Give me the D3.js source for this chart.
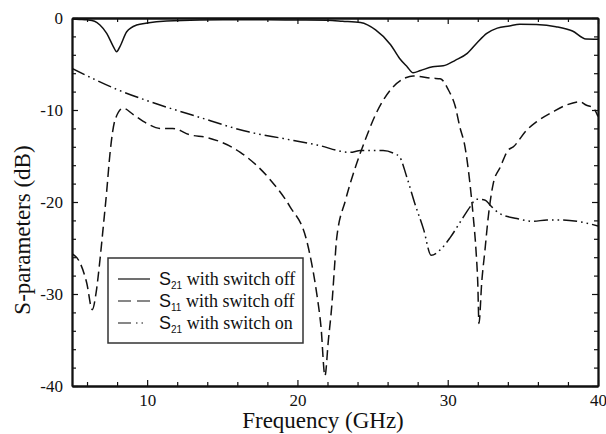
<!DOCTYPE html>
<html>
<head>
<meta charset="utf-8">
<script src="https://cdn.jsdelivr.net/npm/d3@7"></script>
<style>
  html, body { margin: 0; padding: 0; background: #fff; }
  svg { display: block; }
</style>
</head>
<body>
<svg id="chart" width="606" height="434"></svg>
<script>
// ---- data ----
const freqS21Off = [5, 5.5, 6, 6.5, 6.86, 7.31, 7.75, 7.97, 8.19, 8.64, 9.3, 10, 11.3, 13.5, 16, 18, 20, 22, 23, 24.2, 25.2, 26.2, 26.8, 27.3, 27.7, 28.2, 29.0, 29.7, 30.5, 31.3, 32, 32.6, 33.3, 34.1, 34.8, 35.9, 37.2, 38.3, 39.2, 40];
const s21Off = [-0.1, -0.15, -0.2, -0.35, -0.76, -1.67, -3.1, -3.66, -3.1, -1.49, -0.76, -0.55, -0.33, -0.22, -0.2, -0.2, -0.22, -0.25, -0.35, -0.5, -1.3, -2.9, -4.4, -5.3, -5.95, -5.7, -5.3, -5.2, -4.6, -3.84, -2.6, -1.67, -1.1, -0.87, -0.69, -0.72, -0.94, -1.41, -2.28, -2.3];

const freqS11Off = [5, 5.53, 5.98, 6.35, 6.6, 6.86, 7.08, 7.3, 7.53, 7.86, 8.4, 9.08, 9.97, 10.85, 11.7, 12.85, 14, 16.2, 18.2, 19.5, 20.6, 20.95, 21.28, 21.57, 21.83, 22.06, 22.28, 22.5, 22.6, 23.2, 23.8, 24.5, 25.2, 26.2, 27.2, 27.7, 29.0, 29.5, 30.04, 30.5, 30.8, 31.15, 31.48, 31.7, 31.88, 32, 32.08, 32.26, 32.48, 32.7, 33.03, 33.5, 34.03, 34.36, 35.25, 35.9, 37, 37.9, 38.8, 39.2, 39.7, 40];
const s11Off = [-25.6, -26.6, -28.8, -31.7, -29.9, -26.3, -22.7, -19, -14.7, -11.1, -9.8, -10.5, -11.45, -12, -12, -12.7, -13, -14.6, -17.6, -20.5, -24.1, -26.7, -29.9, -33.6, -38.9, -35, -31.4, -26.3, -24.1, -19.8, -16.5, -13.3, -10.5, -7.8, -6.5, -6.3, -6.55, -6.6, -7.8, -9.6, -11.8, -14, -18, -21.6, -25.2, -28.8, -33.2, -28.8, -25.2, -21.6, -18, -16.2, -14.35, -14, -12.2, -11.3, -10.2, -9.46, -9.1, -9.46, -9.8, -10.7];

const freqS21On = [5, 7.97, 10.2, 13.3, 16.8, 19.06, 21.3, 23.5, 24.2, 25.7, 26.4, 26.8, 27.27, 27.8, 28.4, 28.9, 29.5, 30.15, 30.9, 31.5, 31.9, 32.5, 32.8, 33.4, 34.6, 35.7, 36.6, 37.5, 38.6, 40];
const s21On = [-5.47, -7.75, -9.1, -10.7, -12.4, -13.1, -13.8, -14.6, -14.4, -14.4, -14.7, -15.1, -17.25, -20.1, -23, -25.8, -25.2, -23.9, -22, -20.5, -19.7, -19.8, -20.3, -21.2, -21.8, -22.1, -21.95, -21.95, -22.1, -22.6];

const xMajorTicks = [10, 20, 30, 40];
const yMajorTicks = [0, -10, -20, -30, -40];
const seriesNames = ["with switch off", "with switch off", "with switch on"];
const seriesSubs = ["21", "11", "21"];

// ---- layout ----
const svg = d3.select("#chart");
const L = 72, R = 598, T = 18, B = 386;
const x = d3.scaleLinear().domain([5, 40]).range([L, R]);
const y = d3.scaleLinear().domain([-40, 0]).range([B, T]);

const serif = "Liberation Serif";
const sans = "Liberation Sans";

const line = d3.line().x(d => x(d[0])).y(d => y(d[1])).curve(d3.curveMonotoneX);
const zip = (a, b) => a.map((v, i) => [v, b[i]]);

svg.append("clipPath").attr("id", "clip")
  .append("rect").attr("x", L).attr("y", T - 1).attr("width", R - L).attr("height", B - T + 2);

const dashes = [null, "10,5", "14,4,1.6,4,1.6,4"];
const data = [zip(freqS21Off, s21Off), zip(freqS11Off, s11Off), zip(freqS21On, s21On)];

const g = svg.append("g").attr("clip-path", "url(#clip)");
data.forEach((d, i) => {
  g.append("path").datum(d)
    .attr("d", line)
    .attr("fill", "none")
    .attr("stroke", "#111")
    .attr("stroke-width", 1.5)
    .attr("stroke-dasharray", dashes[i]);
});

// ---- axes (ticks inward on all sides) ----
const xMinor = d3.range(6, 40, 2).filter(v => v % 10 !== 0);
const yMinor = d3.range(-38, 0, 2).filter(v => v % 10 !== 0);

const axB = d3.axisBottom(x).tickValues(xMajorTicks).tickSizeInner(-6).tickSizeOuter(0).tickPadding(8).tickFormat(d3.format("d"));
const axBm = d3.axisBottom(x).tickValues(xMinor).tickSizeInner(-4).tickSizeOuter(0).tickFormat("");
const axT = d3.axisTop(x).tickValues(xMajorTicks).tickSizeInner(-6).tickSizeOuter(0).tickFormat("");
const axTm = d3.axisTop(x).tickValues(xMinor).tickSizeInner(-4).tickSizeOuter(0).tickFormat("");
const axL = d3.axisLeft(y).tickValues(yMajorTicks).tickSizeInner(-6).tickSizeOuter(0).tickPadding(9).tickFormat(d => d === 0 ? "0" : "-" + Math.abs(d));
const axLm = d3.axisLeft(y).tickValues(yMinor).tickSizeInner(-4).tickSizeOuter(0).tickFormat("");
const axR = d3.axisRight(y).tickValues(yMajorTicks).tickSizeInner(-6).tickSizeOuter(0).tickFormat("");
const axRm = d3.axisRight(y).tickValues(yMinor).tickSizeInner(-4).tickSizeOuter(0).tickFormat("");

function styleAxis(sel) {
  sel.attr("font-family", serif).attr("font-size", 17);
  sel.selectAll("path.domain").attr("stroke", "#111").attr("stroke-width", 1.8);
  sel.selectAll(".tick line").attr("stroke", "#111").attr("stroke-width", 1.2);
  sel.selectAll(".tick text").attr("font-family", serif).attr("font-size", 17).attr("fill", "#111");
}
svg.append("g").attr("transform", `translate(0,${B})`).call(axB).call(styleAxis);
svg.append("g").attr("transform", `translate(0,${B})`).call(axBm).call(styleAxis);
svg.append("g").attr("transform", `translate(0,${T})`).call(axT).call(styleAxis);
svg.append("g").attr("transform", `translate(0,${T})`).call(axTm).call(styleAxis);
svg.append("g").attr("transform", `translate(${L},0)`).call(axL).call(styleAxis);
svg.append("g").attr("transform", `translate(${L},0)`).call(axLm).call(styleAxis);
svg.append("g").attr("transform", `translate(${R},0)`).call(axR).call(styleAxis);
svg.append("g").attr("transform", `translate(${R},0)`).call(axRm).call(styleAxis);

// ---- axis titles ----
svg.append("text").attr("x", 323).attr("y", 428)
  .attr("text-anchor", "middle").attr("font-family", serif).attr("font-size", 23).attr("fill", "#111")
  .text("Frequency (GHz)");
svg.append("text").attr("transform", "translate(30,230) rotate(-90)")
  .attr("text-anchor", "middle").attr("font-family", serif).attr("font-size", 23).attr("fill", "#111")
  .text("S-parameters (dB)");

// ---- legend ----
const lg = svg.append("g");
lg.append("rect").attr("x", 108).attr("y", 258).attr("width", 195).attr("height", 85)
  .attr("fill", "#fff").attr("stroke", "#333").attr("stroke-width", 1.5);
const rowY = [279, 301, 323];
seriesNames.forEach((name, i) => {
  const yy = rowY[i];
  lg.append("line").attr("x1", 118).attr("x2", 150).attr("y1", yy).attr("y2", yy)
    .attr("stroke", "#111").attr("stroke-width", 1.2)
    .attr("stroke-dasharray", i === 0 ? null : (i === 1 ? "13,6" : "13,5,1.5,4,1.5,10"));
  const t = lg.append("text").attr("x", 159).attr("y", yy + 6).attr("fill", "#111");
  t.append("tspan").attr("font-family", sans).attr("font-size", 18).text("S");
  t.append("tspan").attr("font-family", sans).attr("font-size", 10).attr("dy", 4).text(seriesSubs[i]);
  t.append("tspan").attr("font-family", serif).attr("font-size", 18).attr("dy", -4).text(" " + name);
});
</script>
</body>
</html>
